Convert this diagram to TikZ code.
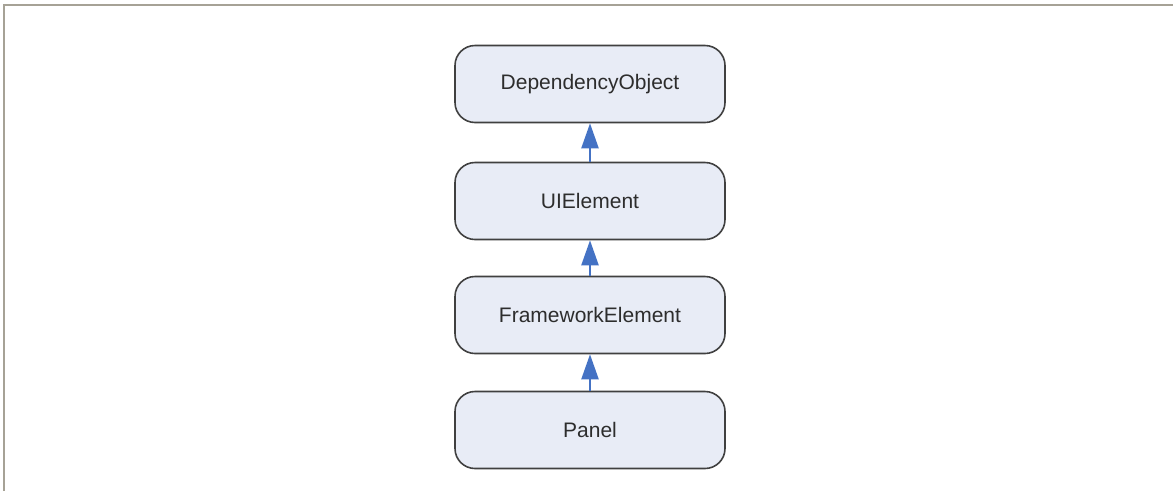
\documentclass[tikz,border=0pt]{standalone}
\usepackage{fontspec}
\setmainfont{Liberation Sans}
\usetikzlibrary{arrows.meta}
\definecolor{boxfill}{RGB}{232,236,246}
\definecolor{boxdraw}{RGB}{64,64,64}
\definecolor{arrowblue}{RGB}{68,114,196}
\definecolor{framegray}{RGB}{166,162,150}
\definecolor{textgray}{RGB}{45,45,45}
\tikzset{
  classbox/.style={draw=boxdraw, line width=1.6pt, fill=boxfill, rounded corners=20pt,
    minimum width=270pt, minimum height=77pt, inner sep=0pt, text=textgray,
    font=\fontsize{21}{25}\selectfont},
  inherit/.style={draw=arrowblue, line width=2.2pt,
    -{Triangle[length=25pt,width=17pt,fill=arrowblue]}},
}
\begin{document}
\begin{tikzpicture}[x=1pt,y=1pt]
\useasboundingbox (0,0) rectangle (1173,-491);
\fill[white] (0,0) rectangle (1173,-491);
\draw[framegray, line width=2pt] (4,-491) -- (4,-5) -- (1173,-5);
\node[classbox] (dep) at (590,-84) {DependencyObject};
\node[classbox] (ui) at (590,-201) {UIElement};
\node[classbox] (fw) at (590,-315) {FrameworkElement};
\node[classbox] (panel) at (590,-430) {Panel};
\draw[inherit] (ui) -- (dep);
\draw[inherit] (fw) -- (ui);
\draw[inherit] (panel) -- (fw);
\end{tikzpicture}
\end{document}
